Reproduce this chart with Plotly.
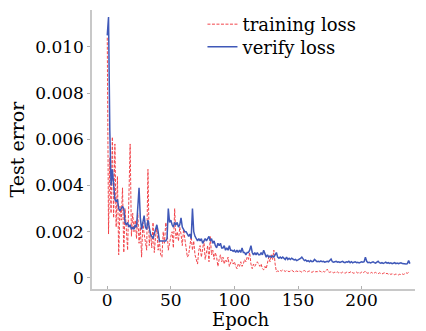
import plotly.graph_objects as go

epochs = list(range(239))

verify_loss = [
    0.0105, 0.0113, 0.0064, 0.0040, 0.0047, 0.0038, 0.0034, 0.0033, 0.0034, 0.0030,
    0.0029, 0.0030, 0.0031, 0.0030, 0.0024, 0.0023, 0.0024, 0.0022, 0.0023, 0.0021,
    0.0022, 0.0021, 0.0023, 0.0022, 0.0030, 0.0039, 0.0026, 0.0021, 0.0024, 0.0027,
    0.0022, 0.0021, 0.0025, 0.0021, 0.0019, 0.0018, 0.0017, 0.0019, 0.0021, 0.0023,
    0.0020, 0.0016, 0.0016, 0.0016, 0.0016, 0.0016, 0.0016, 0.0017, 0.0030, 0.0024,
    0.0025, 0.0023, 0.0022, 0.0024, 0.0023, 0.0024, 0.0022, 0.0023, 0.0026, 0.0022,
    0.0021, 0.0020, 0.0020, 0.0019, 0.0018, 0.0019, 0.0017, 0.0030, 0.0020, 0.0018,
    0.0017, 0.0016, 0.0017, 0.0016, 0.0017, 0.0015, 0.0016, 0.0017, 0.0016, 0.0017,
    0.0018, 0.0016, 0.0017, 0.0015, 0.0016, 0.0014, 0.0013, 0.0015, 0.0014, 0.0015,
    0.0013, 0.0013, 0.0014, 0.0012, 0.0013, 0.0012, 0.0014, 0.0012, 0.0012, 0.00115,
    0.0012, 0.0011, 0.0012, 0.0011, 0.0012, 0.0011, 0.0013, 0.0011, 0.0011, 0.0010,
    0.0011, 0.0011, 0.0012, 0.0014, 0.0011, 0.0010, 0.0011, 0.0010, 0.0011, 0.0010,
    0.0010, 0.0011, 0.0010, 0.0012, 0.0010, 0.0009, 0.0010, 0.0009, 0.00095, 0.0009,
    0.00095, 0.0009, 0.0010, 0.0011, 0.0009, 0.00085, 0.0009, 0.00085, 0.0009, 0.00085,
    0.0008, 0.0009, 0.0008, 0.00085, 0.0008, 0.00085, 0.0008, 0.00078, 0.0008, 0.00075,
    0.00078, 0.0008, 0.00085, 0.0009, 0.0008, 0.00075, 0.00078, 0.00072, 0.00075, 0.0007,
    0.00075, 0.0007, 0.00072, 0.0008, 0.00075, 0.0007, 0.00072, 0.0007, 0.00074, 0.0007,
    0.00072, 0.00068, 0.0007, 0.00072, 0.0007, 0.00075, 0.00082, 0.0007, 0.00068, 0.0007,
    0.00072, 0.00068, 0.0007, 0.00067, 0.0007, 0.00072, 0.00068, 0.00066, 0.0007, 0.00068,
    0.00072, 0.00066, 0.0007, 0.00065, 0.00068, 0.0007, 0.00066, 0.00068, 0.00065, 0.00067,
    0.0007, 0.00068, 0.0007, 0.0009, 0.00072, 0.00066, 0.00068, 0.00065, 0.00067, 0.0007,
    0.00066, 0.00064, 0.00068, 0.00072, 0.00066, 0.00064, 0.00066, 0.00063, 0.00065, 0.00068,
    0.00064, 0.00066, 0.00063, 0.00065, 0.00062, 0.00064, 0.00066, 0.00062, 0.00064, 0.00062,
    0.00063, 0.00065, 0.00062, 0.00061, 0.00063, 0.0006, 0.00062, 0.00075, 0.00062,
]

training_loss = [
    0.0104, 0.0019, 0.0052, 0.0028, 0.0061, 0.0026, 0.0058, 0.0022, 0.0044, 0.0010,
    0.0031, 0.0025, 0.0039, 0.0011, 0.0030, 0.0018, 0.0012, 0.0035, 0.0058, 0.0018,
    0.0028, 0.0020, 0.0025, 0.0017, 0.0028, 0.0015, 0.0022, 0.0009, 0.0024, 0.0019,
    0.0016, 0.0012, 0.0047, 0.0014, 0.0020, 0.0013, 0.0024, 0.0011, 0.0018, 0.0022,
    0.0012, 0.0016, 0.0010, 0.0009, 0.0020, 0.0015, 0.0024, 0.0021, 0.0012, 0.0016,
    0.0018, 0.0020, 0.0013, 0.0030, 0.0017, 0.0020, 0.0016, 0.0022, 0.0019, 0.0014,
    0.0021, 0.0017, 0.0013, 0.0009, 0.0010, 0.0014, 0.0018, 0.0012, 0.0016, 0.0010,
    0.0008, 0.0006, 0.0012, 0.0014, 0.0009, 0.0012, 0.0016, 0.0008, 0.0011, 0.0014,
    0.0007, 0.0018, 0.0010, 0.0012, 0.0008, 0.0011, 0.0009, 0.0005, 0.0008, 0.0010,
    0.0007, 0.0009, 0.0006, 0.0008, 0.0007, 0.0009, 0.0005, 0.0007, 0.0008, 0.0006,
    0.0007, 0.0005, 0.0004, 0.0006, 0.0005, 0.0007, 0.0005, 0.0006, 0.0008, 0.0007,
    0.0009, 0.0008, 0.0011, 0.0006, 0.0004, 0.0006, 0.0005, 0.0006, 0.0007, 0.0006,
    0.0005, 0.0006, 0.0004, 0.00035, 0.0005, 0.0004, 0.0006, 0.0009, 0.0007, 0.0010,
    0.0008, 0.0012, 0.0006, 0.00027, 0.0003, 0.00028, 0.00032, 0.0003, 0.00035, 0.0003,
    0.00028, 0.00032, 0.0003, 0.00027, 0.0003, 0.00033, 0.0003, 0.00025, 0.00028, 0.0003,
    0.00027, 0.0003, 0.00028, 0.00025, 0.0003, 0.00032, 0.00028, 0.00025, 0.00028, 0.0003,
    0.00026, 0.00024, 0.00028, 0.0003, 0.00026, 0.00028, 0.00025, 0.0003, 0.00027, 0.00024,
    0.00028, 0.00026, 0.0003, 0.00038, 0.00026, 0.00024, 0.00027, 0.00025, 0.00022, 0.00025,
    0.00023, 0.00026, 0.00022, 0.00024, 0.00021, 0.00025, 0.00023, 0.0002, 0.00024, 0.00026,
    0.00022, 0.00024, 0.00028, 0.00022, 0.0002, 0.00023, 0.00025, 0.00021, 0.00024, 0.0002,
    0.00026, 0.00022, 0.00024, 0.0003, 0.00022, 0.0002, 0.00023, 0.00021, 0.00024, 0.00019,
    0.00022, 0.00024, 0.0002, 0.00018, 0.00022, 0.0002, 0.00017, 0.0002, 0.00022, 0.00018,
    0.0002, 0.00016, 0.00019, 0.00015, 0.00018, 0.00016, 0.00014, 0.00017, 0.00015, 0.00013,
    0.00016, 0.00014, 0.00017, 0.00015, 0.00018, 0.00022, 0.0002, 0.00024, 0.00022,
]

x_tick_vals = [0, 50, 100, 150, 200]
y_tick_vals = [0, 0.002, 0.004, 0.006, 0.008, 0.010]
y_tick_text = ["0", "0.002", "0.004", "0.006", "0.008", "0.010"]

FONT = "DejaVu Serif"

fig = go.Figure()
fig.add_trace(go.Scatter(
    x=epochs, y=training_loss, mode="lines", name="training loss", legend="legend",
    line=dict(color="#f2444a", width=1, dash="3px,1.5px"),
))
fig.add_trace(go.Scatter(
    x=epochs, y=verify_loss, mode="lines", name="verify loss", legend="legend2",
    line=dict(color="#3f58b8", width=1.5),
))

axis_common = dict(
    showgrid=False, zeroline=False, showline=True, linecolor="#c8c8c8", linewidth=1.5,
    ticklen=3, tickcolor="#b0b0b0", tickwidth=1,
    tickfont=dict(family=FONT, size=17, color="black"),
)

legend_common = dict(x=0.342, xanchor="left", yanchor="top", yref="container",
                     bgcolor="rgba(0,0,0,0)", borderwidth=0,
                     font=dict(family=FONT, size=18, color="black"))

fig.update_layout(
    width=426, height=331,
    margin=dict(l=92, r=11, t=10, b=42, autoexpand=False),
    paper_bgcolor="white", plot_bgcolor="white",
    showlegend=True,
    legend=dict(y=0.982, **legend_common),
    legend2=dict(y=0.914, **legend_common),
    xaxis=dict(range=[-12, 242], tickvals=x_tick_vals, ticks="inside",
               ticklabelstandoff=-5, **axis_common),
    yaxis=dict(range=[-0.00048, 0.0116], tickvals=y_tick_vals, ticktext=y_tick_text,
               ticks="outside",
               title=dict(text="Test error", font=dict(family=FONT, size=19, color="black"), standoff=6),
               **axis_common),
    annotations=[dict(text="Epoch", xref="paper", yref="paper", x=0.461, y=0,
                      yshift=-19, xanchor="center", yanchor="top", showarrow=False,
                      borderpad=0,
                      font=dict(family=FONT, size=18, color="black"))],
)

fig.write_html("out.html")
